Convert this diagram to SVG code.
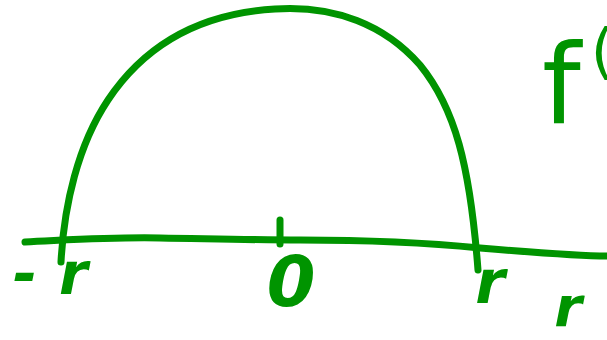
<svg xmlns="http://www.w3.org/2000/svg" width="607" height="340" viewBox="0 0 607 340">
<style>
.ink{fill:none;stroke:#009400;stroke-width:7;stroke-linecap:round;stroke-linejoin:round}
.lbl{fill:#009400;font-family:"DejaVu Sans",sans-serif;font-style:italic;font-weight:bold}
.fn{fill:#009400;font-family:"DejaVu Sans",sans-serif;font-style:normal;font-weight:normal}
</style>
<rect width="607" height="340" fill="#ffffff"/>
<g id="curve">
<path class="ink" d="M61,262 C64,205 78,145 108,100 C140,52 190,14 275,9 C335,5 385,25 420,65 C455,108 470,165 478,270"/>
</g>
<g id="axis">
<path class="ink" d="M25,242 C70,240 110,237 160,238 C220,239 260,240 300,240 C360,240 420,242 480,248 C540,253 580,256 607,256"/>
<path class="ink" d="M280,220 L280,244"/>
</g>
<g id="labels">
<text class="lbl" x="13" y="294" font-size="58">-<tspan dx="22">r</tspan></text>
<text class="lbl" x="291" y="306" font-size="70" text-anchor="middle">0</text>
<text class="lbl" x="490" y="303" font-size="60" text-anchor="middle">r</text>
<text class="lbl" x="568" y="326" font-size="56" text-anchor="middle">r</text>
<text class="fn" x="542" y="123" font-size="110">f<tspan dx="10" y="72" font-size="60">(</tspan></text>
</g>
</svg>
